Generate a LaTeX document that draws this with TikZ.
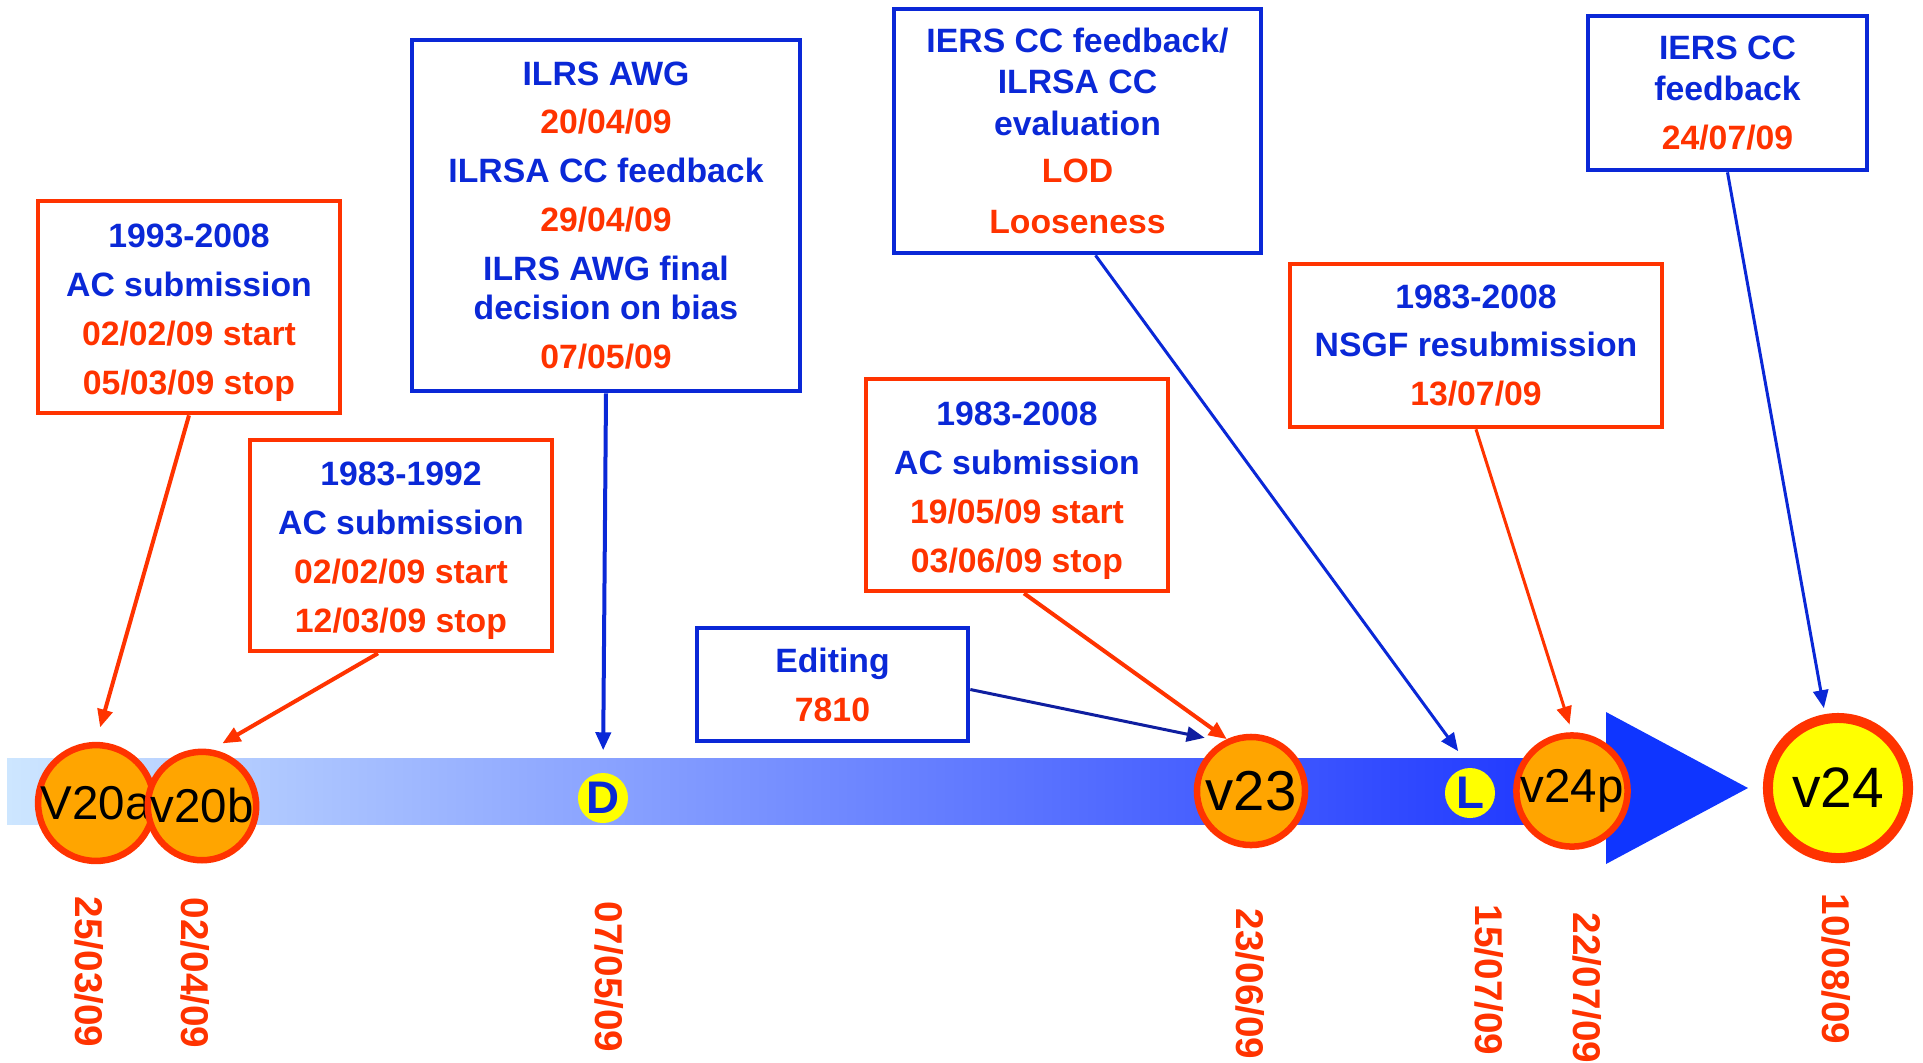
\documentclass[tikz,border=0pt]{standalone}
\usepackage{fontspec}
\setmainfont{Liberation Sans}
\usepackage{xcolor}
\usepackage{tikz}
\usetikzlibrary{arrows.meta}
\definecolor{tlred}{RGB}{255,51,0}
\definecolor{tlblue}{RGB}{10,40,215}
\definecolor{tldkblue}{RGB}{15,30,160}
\definecolor{tlorange}{RGB}{255,165,0}
\definecolor{tlyellow}{RGB}{255,255,0}
\definecolor{tlbandl}{RGB}{205,230,255}
\definecolor{tlbandr}{RGB}{25,50,255}
\definecolor{tlhead}{RGB}{15,53,255}
\newcommand{\tlb}[1]{\textcolor{tlblue}{#1}}
\newcommand{\tlr}[1]{\textcolor{tlred}{#1}}

\begin{document}
\begin{tikzpicture}[x=0.01cm,y=-0.01cm,>={Triangle[length=1.8mm,width=1.5mm]},
  tlbox/.style={line width=0.045cm,align=center,inner sep=0pt,font=\bfseries\fontsize{9.6}{11.2}\selectfont},
  redbox/.style={tlbox,draw=tlred},
  bluebox/.style={tlbox,draw=tlblue},
  version/.style={circle,draw=tlred,fill=tlorange,line width=0.065cm,inner sep=0pt,font=\fontsize{13.5}{15}\selectfont},
  flag/.style={circle,fill=tlyellow,minimum size=0.5cm,inner sep=0pt,text=tlblue,font=\bfseries\fontsize{13}{15}\selectfont},
  datelbl/.style={rotate=-90,text=tlred,inner sep=0pt,font=\bfseries\fontsize{11}{13}\selectfont}]
  \useasboundingbox (0,0) rectangle (1923,1062);
  \fill[left color=tlbandl,right color=tlbandr] (7,758) rectangle (1607,824);
  \fill[tlhead] (1606,712) -- (1748,788) -- (1606,864) -- cycle;
  \node[redbox,minimum width=3.02cm,minimum height=2.12cm] (sub93) at (189,307) {\rule{0pt}{9.8pt}\tlb{1993-2008}\\[2.7pt]\tlb{AC submission}\\[2.7pt]\tlr{02/02/09 start}\\[2.7pt]\tlr{05/03/09 stop}};
  \node[redbox,minimum width=3.02cm,minimum height=2.11cm] (sub83) at (401,545.5) {\rule{0pt}{9.8pt}\tlb{1983-1992}\\[2.7pt]\tlb{AC submission}\\[2.7pt]\tlr{02/02/09 start}\\[2.7pt]\tlr{12/03/09 stop}};
  \node[bluebox,minimum width=3.88cm,minimum height=3.51cm] (awg) at (606,215.5) {\tlb{ILRS AWG}\\[2.7pt]\tlr{20/04/09}\\[2.7pt]\tlb{ILRSA CC feedback}\\[2.7pt]\tlr{29/04/09}\\[2.7pt]\tlb{ILRS AWG final}\\\tlb{decision on bias}\\[2.7pt]\tlr{07/05/09}};
  \node[bluebox,minimum width=3.67cm,minimum height=2.44cm] (iers) at (1077.5,131) {\tlb{IERS CC feedback/}\\[0.6pt]\tlb{ILRSA CC}\\[0.6pt]\tlb{evaluation}\\[2.1pt]\tlr{LOD}\\[3.5pt]\tlr{Looseness}};
  \node[redbox,minimum width=3.02cm,minimum height=2.12cm] (sub08) at (1017,485) {\rule{0pt}{9.8pt}\tlb{1983-2008}\\[2.7pt]\tlb{AC submission}\\[2.7pt]\tlr{19/05/09 start}\\[2.7pt]\tlr{03/06/09 stop}};
  \node[bluebox,minimum width=2.71cm,minimum height=1.13cm] (edit) at (832.5,684.5) {\tlb{Editing}\\[2.7pt]\tlr{7810}};
  \node[redbox,minimum width=3.72cm,minimum height=1.63cm] (nsgf) at (1476,345.5) {\tlb{1983-2008}\\[2.7pt]\tlb{NSGF resubmission}\\[2.7pt]\tlr{13/07/09}};
  \node[bluebox,minimum width=2.79cm,minimum height=1.54cm] (iersfb) at (1727.5,93) {\tlb{IERS CC}\\[0.6pt]\tlb{feedback}\\[2.7pt]\tlr{24/07/09}};
  \node[version,minimum size=1.04cm] (v20a) at (96,803) {V20a};
  \node[version,minimum size=1.04cm] (v20b) at (202,806) {v20b};
  \node[flag] (dflag) at (603,798) {D};
  \node[version,minimum size=1.08cm,font=\fontsize{16}{18}\selectfont] (v23) at (1251,791) {v23};
  \node[flag] (lflag) at (1470,793) {L};
  \node[version,minimum size=1.08cm] (v24p) at (1572,791) {v24p};
  \node[version,minimum size=1.40cm,line width=0.1cm,fill=tlyellow,font=\fontsize{16.2}{18}\selectfont] (v24) at (1838,788) {v24};
  \node[datelbl] (t20a) at (89,972) {25/03/09};
  \node[datelbl] (t20b) at (195,973) {02/04/09};
  \node[datelbl] (tdflag) at (609,977) {07/05/09};
  \node[datelbl] (t23) at (1250,984) {23/06/09};
  \node[datelbl] (tlflag) at (1489,980) {15/07/09};
  \node[datelbl] (t24p) at (1587,988) {22/07/09};
  \node[datelbl] (t24) at (1836,969) {10/08/09};
  \draw[->, tlred, line width=0.04cm, shorten >=0.15cm] (sub93.south) -- (v20a.north);
  \draw[->, tlred, line width=0.04cm, shorten >=0.12cm] ([xshift=-0.23cm]sub83.south) -- (v20b.80);
  \draw[->, tlblue, line width=0.04cm, shorten >=0.22cm] (awg.south) -- (dflag.north);
  \draw[->, tldkblue, line width=0.03cm, shorten >=0.18cm] ([yshift=-0.05cm]edit.east) -- (v23.120);
  \draw[->, tlred, line width=0.04cm] ([xshift=0.07cm]sub08.south) -- (v23.115);
  \draw[->, tlblue, line width=0.03cm, shorten >=0.2cm] ([xshift=0.18cm]iers.south) -- (lflag.north);
  \draw[->, tlred, line width=0.03cm, shorten >=0.08cm] (nsgf.south) -- (v24p.north);
  \draw[->, tlblue, line width=0.03cm, shorten >=0.06cm] (iersfb.south) -- (v24.100);
\end{tikzpicture}
\end{document}
